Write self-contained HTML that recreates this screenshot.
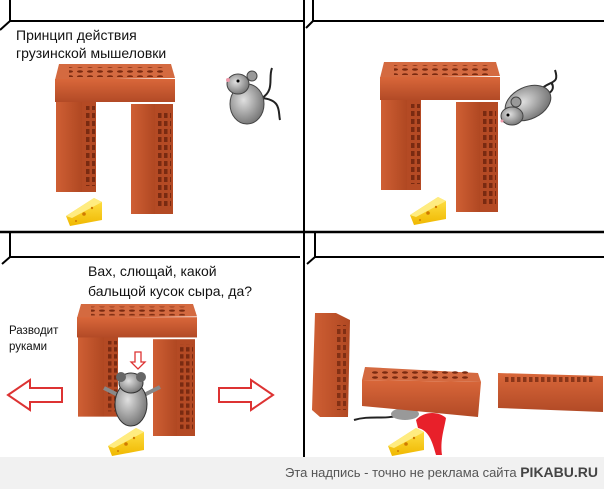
<!DOCTYPE html>
<html><head><meta charset="utf-8"><style>
html,body{margin:0;padding:0;background:#fff;}
svg{display:block}
text{font-family:"Liberation Sans","DejaVu Sans",sans-serif;}
</style></head><body>
<svg width="604" height="489" viewBox="0 0 604 489" xmlns="http://www.w3.org/2000/svg">
<defs>
<linearGradient id="bf" x1="0" y1="0" x2="0" y2="1"><stop offset="0" stop-color="#d9673a"/><stop offset="1" stop-color="#b24a26"/></linearGradient>
<linearGradient id="bs" x1="0" y1="0" x2="1" y2="0"><stop offset="0" stop-color="#cf5f34"/><stop offset="1" stop-color="#b04822"/></linearGradient>
<linearGradient id="ch" x1="0" y1="0" x2="0" y2="1"><stop offset="0" stop-color="#ffe24a"/><stop offset="1" stop-color="#f0b800"/></linearGradient>
<radialGradient id="ms" cx="0.4" cy="0.4" r="0.7"><stop offset="0" stop-color="#e0e0e0"/><stop offset="1" stop-color="#6a6a6a"/></radialGradient>
<pattern id="holes" width="10" height="5" patternUnits="userSpaceOnUse"><ellipse cx="5" cy="2.5" rx="3" ry="1.3" fill="#7a2a10"/></pattern>
<pattern id="slots" width="6" height="8" patternUnits="userSpaceOnUse"><rect x="1" y="1" width="3.5" height="5" fill="#6a220c"/></pattern>
<g id="cheese"><path d="M0 22 L28 4 L36 8 L36 26 L4 32 Z" fill="url(#ch)"/><path d="M0 22 L28 4 L36 8 L6 24 Z" fill="#ffec80"/><circle cx="18" cy="20" r="1.8" fill="#d07a00"/><circle cx="26" cy="14" r="1.2" fill="#d07a00"/><circle cx="10" cy="27" r="1" fill="#d07a00"/></g>
<g id="arch">
<rect x="1" y="36" width="26" height="92" fill="url(#bs)"/><rect x="27" y="36" width="14" height="92" fill="#b44a24"/><rect x="29" y="42" width="11" height="80" fill="url(#slots)" opacity="0.8"/>
<rect x="76" y="40" width="24" height="110" fill="url(#bs)"/><rect x="100" y="40" width="18" height="110" fill="#b44a24"/><rect x="102" y="46" width="14" height="98" fill="url(#slots)" opacity="0.8"/>
<path d="M4 0 L116 0 L120 14 L0 16 Z" fill="#d46a40"/><rect x="14" y="3" width="96" height="10" fill="url(#holes)"/>
<rect x="0" y="15" width="120" height="23" fill="url(#bf)"/>
</g>
</defs>
<rect width="604" height="489" fill="#fff"/>
<!-- frames -->
<g stroke="#000" stroke-width="2" fill="none">
<path d="M10 0 V21 H303"/><path d="M10 21 L0 30"/>
<line x1="304" y1="0" x2="304" y2="458"/>
<path d="M313 0 V21 H604"/><path d="M313 21 L306 28"/>
<line x1="0" y1="232" x2="604" y2="232" stroke-width="2.5"/>
<path d="M10 233 V257 H300"/><path d="M10 257 L2 264"/>
<path d="M315 233 V257 H604"/><path d="M315 257 L307 264"/>
</g>
<!-- top-left -->
<text x="16" y="40" font-size="14" fill="#111">Принцип действия</text>
<text x="16" y="58" font-size="14" fill="#111">грузинской мышеловки</text>
<g transform="translate(55,64)"><use href="#arch"/></g>
<use href="#cheese" x="66" y="194"/>
<path d="M262 98 C275 90 268 78 272 68 M262 98 C282 100 278 112 280 120" stroke="#222" stroke-width="2" fill="none"/>
<ellipse cx="247" cy="104" rx="17" ry="20" fill="url(#ms)" stroke="#444"/>
<ellipse cx="238" cy="84" rx="11" ry="10" fill="url(#ms)" stroke="#444"/>
<circle cx="252" cy="76" r="5" fill="#999" stroke="#444"/>
<circle cx="238" cy="81" r="1.5" fill="#000"/><circle cx="228" cy="80" r="2" fill="#e9a"/>
<!-- top-right -->
<g transform="translate(380,62)"><use href="#arch"/></g>
<use href="#cheese" x="410" y="193"/>
<path d="M545 95 C560 90 548 78 553 86" stroke="#222" stroke-width="2" fill="none"/>
<path d="M540 90 C550 80 560 85 555 70" stroke="#222" stroke-width="2" fill="none"/>
<ellipse cx="528" cy="103" rx="24" ry="16" transform="rotate(-25 528 103)" fill="url(#ms)" stroke="#444"/>
<ellipse cx="512" cy="116" rx="11" ry="9" fill="url(#ms)" stroke="#444"/>
<circle cx="516" cy="102" r="5" fill="#999" stroke="#444"/>
<circle cx="508" cy="115" r="1.5" fill="#000"/><circle cx="502" cy="121" r="1.5" fill="#e9a"/>
<!-- bottom-left -->
<text x="88" y="276" font-size="14" fill="#111">Вах, слющай, какой</text>
<text x="88" y="296" font-size="14" fill="#111">бальщой кусок сыра, да?</text>
<text x="9" y="334" font-size="11.5" fill="#111">Разводит</text>
<text x="9" y="350" font-size="11.5" fill="#111">руками</text>
<g transform="translate(77,304) scale(1,0.88)"><use href="#arch"/></g>
<path d="M135 352 H141 V362 H145 L138 369 L131 362 H135 Z" fill="none" stroke="#d33" stroke-width="1.3"/>
<path d="M118 395 L104 388 M144 395 L160 387" stroke="#888" stroke-width="4"/>
<ellipse cx="131" cy="404" rx="16" ry="22" fill="url(#ms)" stroke="#333"/>
<ellipse cx="131" cy="383" rx="12" ry="10" fill="url(#ms)" stroke="#333"/>
<circle cx="121" cy="377" r="5" fill="#666"/><circle cx="141" cy="377" r="5" fill="#666"/>
<path d="M8 395 L30 380 V388 H62 V402 H30 V410 Z" fill="#fff" stroke="#d33" stroke-width="2"/>
<path d="M273 395 L251 380 V388 H219 V402 H251 V410 Z" fill="#fff" stroke="#d33" stroke-width="2"/>
<use href="#cheese" x="108" y="424"/>
<!-- bottom-right -->
<path d="M315 313 L336 313 L350 320 L348 417 L320 417 L312 410 Z" fill="url(#bs)"/>
<rect x="336" y="325" width="10" height="85" fill="url(#slots)" opacity="0.7"/>
<path d="M354 420 C370 415 385 420 400 415" stroke="#222" stroke-width="2" fill="none"/>
<ellipse cx="405" cy="414" rx="14" ry="6" fill="#999"/>
<path d="M365 367 L478 373 L481 382 L362 380 Z" fill="#d46a40"/><rect x="372" y="371" width="100" height="9" fill="url(#holes)"/>
<path d="M362 380 L481 382 L478 417 L362 406 Z" fill="url(#bf)"/>
<path d="M498 373 L603 376 L603 412 L498 408 Z" fill="url(#bf)"/><rect x="505" y="375" width="90" height="10" fill="url(#slots)" opacity="0.7"/>
<use href="#cheese" x="388" y="424"/>
<path d="M416 420 C425 410 440 412 446 418 C444 430 440 440 442 455 L436 455 C432 440 428 430 418 428 Z" fill="#e8202a"/>
<!-- footer -->
<rect x="0" y="457" width="604" height="32" fill="#f1f1f1"/>
<text x="598" y="477" font-size="13" fill="#555" text-anchor="end">Эта надпись - точно не реклама сайта <tspan font-weight="bold" font-size="14" fill="#444">PIKABU.RU</tspan></text>
</svg>
</body></html>
